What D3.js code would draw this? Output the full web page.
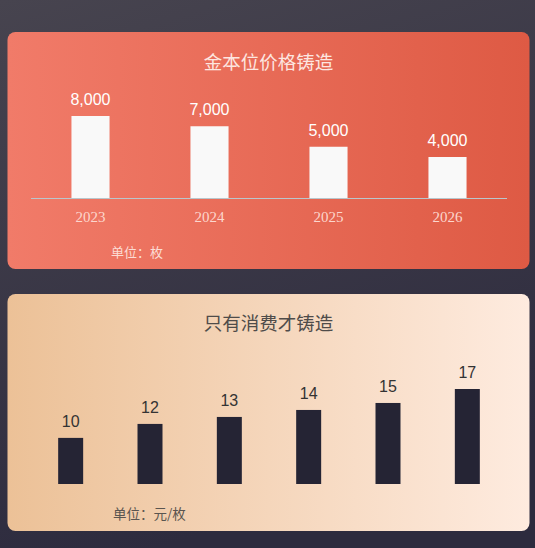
<!DOCTYPE html>
<html>
    <head>
        <meta charset="utf-8">
        <style>
            body { margin: 0; background: #3a3847; }
            svg { display: block; }
        </style>
        <script src="https://d3js.org/d3.v7.min.js"></script>
    </head>
    <body>
        <svg id="plot" width="535" height="548"></svg>
        <script>
            // chart 1 data
            const goldYears = ['2023', '2024', '2025', '2026'];
            const goldValues = [8000, 7000, 5000, 4000];
            // chart 2 data
            const spendCats = ['a', 'b', 'c', 'd', 'e', 'f'];
            const spendValues = [10, 12, 13, 14, 15, 17];

            const svg = d3.select('#plot');
            const defs = svg.append('defs');

            const bg = defs.append('linearGradient').attr('id', 'bg')
                .attr('x1', 0).attr('y1', 0).attr('x2', 0.3).attr('y2', 1);
            bg.append('stop').attr('offset', 0).attr('stop-color', '#47444f');
            bg.append('stop').attr('offset', 1).attr('stop-color', '#2d2b3e');

            const g1 = defs.append('linearGradient').attr('id', 'card1')
                .attr('x1', 0).attr('y1', 0).attr('x2', 1).attr('y2', 0);
            g1.append('stop').attr('offset', 0).attr('stop-color', '#f17b69');
            g1.append('stop').attr('offset', 1).attr('stop-color', '#de5a44');

            const g2 = defs.append('linearGradient').attr('id', 'card2')
                .attr('x1', 0).attr('y1', 0).attr('x2', 1).attr('y2', 0);
            g2.append('stop').attr('offset', 0).attr('stop-color', '#ecc197');
            g2.append('stop').attr('offset', 1).attr('stop-color', '#feebdf');

            svg.append('rect').attr('width', 535).attr('height', 548).attr('fill', 'url(#bg)');

            const cjk = '"Noto Sans CJK SC", "Noto Sans", sans-serif';
            const sans = '"Liberation Sans", Arial, sans-serif';

            // ---------- card 1 ----------
            svg.append('rect')
                .attr('x', 7.5).attr('y', 32).attr('width', 522).attr('height', 237)
                .attr('rx', 8).attr('fill', 'url(#card1)');

            svg.append('text')
                .attr('x', 268.5).attr('y', 63)
                .attr('dy', '0.35em')
                .style('text-anchor', 'middle')
                .style('font-family', cjk).style('font-size', '18.5px')
                .attr('fill', '#fde6e0')
                .text('金本位价格铸造');

            const x1 = d3.scaleBand().domain(goldYears).range([31, 507]);
            const y1 = d3.scaleLinear().domain([0, 8000]).range([198, 116]);
            const bw1 = x1.bandwidth() * 0.32;

            svg.append('g').selectAll('rect')
                .data(goldValues)
                .enter()
                .append('rect')
                .attr('x', (d, i) => x1(goldYears[i]) + x1.bandwidth() / 2 - bw1 / 2)
                .attr('y', d => y1(d))
                .attr('width', bw1)
                .attr('height', d => y1(0) - y1(d))
                .attr('fill', '#f9f9f9');

            svg.append('g').selectAll('text')
                .data(goldValues)
                .enter()
                .append('text')
                .attr('x', (d, i) => x1(goldYears[i]) + x1.bandwidth() / 2)
                .attr('y', d => y1(d) - 11)
                .style('text-anchor', 'middle')
                .style('font-family', sans).style('font-size', '16px')
                .attr('fill', '#ffffff')
                .text(d => d3.format(',')(d));

            const ax1 = svg.append('g')
                .attr('transform', 'translate(0, 198)')
                .call(d3.axisBottom(x1).tickSize(0).tickPadding(13));
            ax1.select('.domain').attr('stroke', '#b9c6cc').attr('d', 'M31,0.5H507');
            ax1.selectAll('text')
                .style('font-family', '"Liberation Serif", "Times New Roman", serif')
                .style('font-size', '15px')
                .attr('fill', '#fcd6cd');

            svg.append('text')
                .attr('x', 111).attr('y', 252)
                .attr('dy', '0.35em')
                .style('font-family', cjk).style('font-size', '13px')
                .attr('fill', '#fcdcd4')
                .text('单位：枚');

            // ---------- card 2 ----------
            svg.append('rect')
                .attr('x', 7.5).attr('y', 294).attr('width', 522).attr('height', 237)
                .attr('rx', 8).attr('fill', 'url(#card2)');

            svg.append('text')
                .attr('x', 268.5).attr('y', 324)
                .attr('dy', '0.35em')
                .style('text-anchor', 'middle')
                .style('font-family', cjk).style('font-size', '18.5px')
                .attr('fill', '#4f4c4a')
                .text('只有消费才铸造');

            const x2 = d3.scaleBand().domain(spendCats).range([31, 507]);
            const y2 = d3.scaleLinear().domain([3.4, 17]).range([484, 389]);
            const bw2 = x2.bandwidth() * 0.315;

            svg.append('g').selectAll('rect')
                .data(spendValues)
                .enter()
                .append('rect')
                .attr('x', (d, i) => x2(spendCats[i]) + x2.bandwidth() / 2 - bw2 / 2)
                .attr('y', d => y2(d))
                .attr('width', bw2)
                .attr('height', d => y2(3.4) - y2(d))
                .attr('fill', '#252434');

            svg.append('g').selectAll('text')
                .data(spendValues)
                .enter()
                .append('text')
                .attr('x', (d, i) => x2(spendCats[i]) + x2.bandwidth() / 2)
                .attr('y', d => y2(d) - 11)
                .style('text-anchor', 'middle')
                .style('font-family', sans).style('font-size', '16px')
                .attr('fill', '#333333')
                .text(d => d);

            svg.append('text')
                .attr('x', 113).attr('y', 514)
                .attr('dy', '0.35em')
                .style('font-family', cjk).style('font-size', '13.5px')
                .attr('fill', '#5a5550')
                .text('单位：元/枚');
        </script>
    </body>
</html>
